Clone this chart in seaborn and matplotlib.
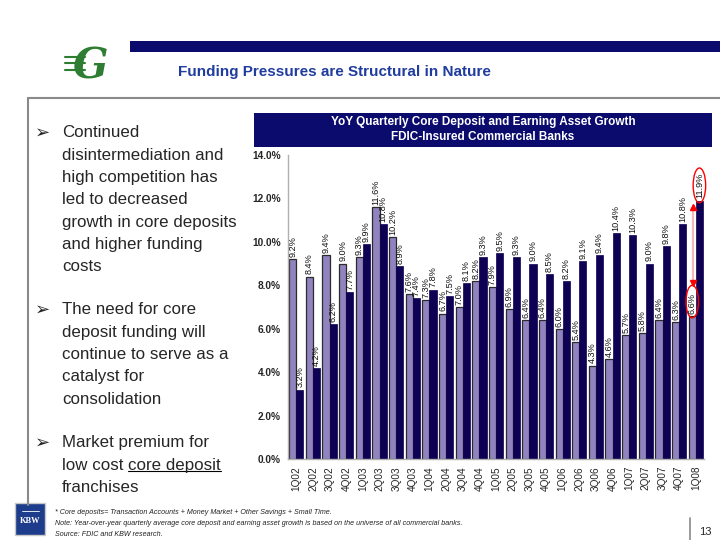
import numpy as np
import pandas as pd
import seaborn as sns
import matplotlib.pyplot as plt
from matplotlib.patches import Rectangle, Ellipse
from matplotlib.lines import Line2D

quarters = ["1Q02", "2Q02", "3Q02", "4Q02", "1Q03", "2Q03", "3Q03", "4Q03",
            "1Q04", "2Q04", "3Q04", "4Q04", "1Q05", "2Q05", "3Q05", "4Q05",
            "1Q06", "2Q06", "3Q06", "4Q06", "1Q07", "2Q07", "3Q07", "4Q07", "1Q08"]
core_deposit = [9.2, 8.4, 9.4, 9.0, 9.3, 11.6, 10.2, 7.6, 7.3, 6.7, 7.0, 8.2, 7.9,
                6.9, 6.4, 6.4, 6.0, 5.4, 4.3, 4.6, 5.7, 5.8, 6.4, 6.3, 6.6]
earning_asset = [3.2, 4.2, 6.2, 7.7, 9.9, 10.8, 8.9, 7.4, 7.8, 7.5, 8.1, 9.3, 9.5,
                 9.3, 9.0, 8.5, 8.2, 9.1, 9.4, 10.4, 10.3, 9.0, 9.8, 10.8, 11.9]
series_names = ["Core Deposit Growth", "Earning Asset Growth"]
yticks = [0, 2, 4, 6, 8, 10, 12, 14]

bullets = [
    ["Continued", "disintermediation and", "high competition has", "led to decreased",
     "growth in core deposits", "and higher funding", "costs"],
    ["The need for core", "deposit funding will", "continue to serve as a",
     "catalyst for", "consolidation"],
    ["Market premium for", "low cost core deposit", "franchises"],
]
footnotes = [
    "* Core deposits= Transaction Accounts + Money Market + Other Savings + Small Time.",
    "Note: Year-over-year quarterly average core deposit and earning asset growth is based on the universe of all commercial banks.",
    "Source: FDIC and KBW research.",
]

LIGHT = "#9183BF"
DARK = "#0E0052"
NAVY = "#0B0B6E"

df = pd.DataFrame({
    "quarter": quarters * 2,
    "growth": core_deposit + earning_asset,
    "series": [series_names[0]] * len(quarters) + [series_names[1]] * len(quarters),
})

sns.set_style("white")
plt.rcParams["font.family"] = ["Liberation Sans", "DejaVu Sans"]

fig = plt.figure(figsize=(7.2, 5.4), dpi=100)
fig.patch.set_facecolor("white")

# header band, title and logo
fig.add_artist(Rectangle((0.181, 0.904), 0.82, 0.02, transform=fig.transFigure,
                         color=NAVY, lw=0))
fig.text(0.247, 0.866, "Funding Pressures are Structural in Nature", color="#1F3C9E",
         fontsize=11, fontweight="bold", va="center", ha="left")
fig.text(0.125, 0.877, "G", color="#2E7D32", fontsize=30, fontweight="bold",
         style="italic", family="DejaVu Serif", ha="center", va="center")
for i in range(3):
    fig.add_artist(Line2D([0.09, 0.118], [0.895 - i * 0.012] * 2,
                          transform=fig.transFigure, color="#2E7D32", lw=1.5))

# frame
fig.add_artist(Line2D([0.039, 1.0], [0.8185, 0.8185], transform=fig.transFigure,
                      color="#8a8a8a", lw=1.5))
fig.add_artist(Line2D([0.039, 0.039], [0.8185, 0.065], transform=fig.transFigure,
                      color="#8a8a8a", lw=1.5))

# chart header
fig.add_artist(Rectangle((0.353, 0.728), 0.636, 0.063, transform=fig.transFigure,
                         color=NAVY, lw=0))
fig.text(0.671, 0.774, "YoY Quarterly Core Deposit and Earning Asset Growth",
         color="white", fontsize=8.5, fontweight="bold", ha="center", va="center")
fig.text(0.671, 0.746, "FDIC-Insured Commercial Banks",
         color="white", fontsize=8.5, fontweight="bold", ha="center", va="center")

# bullets
starts = [133, 310, 443]
step = 22.3
bullet_texts = []
for block, y0 in zip(bullets, starts):
    fig.text(0.049, 1 - y0 / 540, "\u27a2", fontsize=13, va="center", ha="left",
             family="DejaVu Sans")
    for j, line in enumerate(block):
        y = 1 - (y0 + j * step) / 540
        if line == "low cost core deposit":
            t1 = fig.text(0.086, y, "low cost ", fontsize=12.2, va="center", ha="left")
            bullet_texts.append((t1, y))
        else:
            fig.text(0.086, y, line, fontsize=12.2, va="center", ha="left")

# chart
ax = fig.add_axes([0.4, 0.15, 0.578, 0.563])
sns.barplot(data=df, x="quarter", y="growth", hue="series", ax=ax,
            palette=[LIGHT, DARK], width=0.86, legend=False, saturation=1)
n = len(quarters)
for k, p in enumerate(ax.patches[:2 * n]):
    if k < n:
        p.set_edgecolor("#2b2b2b")
        p.set_linewidth(0.9)
    else:
        p.set_edgecolor(DARK)
        p.set_linewidth(0.5)

for k, p in enumerate(ax.patches[:2 * n]):
    val = p.get_height()
    ax.text(p.get_x() + p.get_width() / 2, val + 0.1, f"{val:.1f}%",
            rotation=90, ha="center", va="bottom", fontsize=6.6, color="#111111")

ax.set_ylim(0, 14)
ax.set_xlim(-0.5, n - 0.5)
ax.set_yticks(yticks)
ax.set_yticklabels([f"{v:.1f}%" for v in yticks], fontsize=7.3, fontweight="bold")
ax.set_xticks(range(n))
ax.set_xticklabels(quarters, rotation=90, fontsize=7.2)
ax.set_xlabel("")
ax.set_ylabel("")
sns.despine(ax=ax)
for s in ["left", "bottom"]:
    ax.spines[s].set_color("#b0b0b0")
    ax.spines[s].set_linewidth(1)
ax.tick_params(axis="y", length=0, pad=5)
ax.tick_params(axis="x", length=3, color="#b0b0b0", pad=2)

# red annotation on last quarter
last_light = ax.patches[n - 1]
last_dark = ax.patches[2 * n - 1]
xl = last_light.get_x() + last_light.get_width() / 2
xd = last_dark.get_x() + last_dark.get_width() / 2
ax.add_patch(Ellipse((xd, earning_asset[-1] + 0.7), 0.75, 1.6, fill=False,
                     edgecolor="red", lw=1, clip_on=False))
ax.add_patch(Ellipse((xl, core_deposit[-1] + 0.65), 0.75, 1.5, fill=False,
                     edgecolor="red", lw=1, clip_on=False))
xa = (xl + xd) / 2 - 0.15
ya0 = core_deposit[-1] + 1.5
ya1 = earning_asset[-1] - 0.3
ax.plot([xa, xa], [ya0, ya1], color="#f6b8b8", lw=1.5)
ax.plot([xa], [ya1], marker="^", color="red", markersize=5)
ax.plot([xa], [ya0], marker="v", color="red", markersize=5)

# underline "core deposit"
fig.canvas.draw()
renderer = fig.canvas.get_renderer()
inv = fig.transFigure.inverted()
for t1, y in bullet_texts:
    bb = t1.get_window_extent(renderer)
    x1 = inv.transform((bb.x1, bb.y0))[0]
    t2 = fig.text(x1, y, "core deposit", fontsize=12.2, va="center", ha="left")
    fig.canvas.draw()
    bb2 = t2.get_window_extent(renderer)
    (ux0, uy0), (ux1, _) = inv.transform([(bb2.x0, bb2.y0), (bb2.x1, bb2.y0)])
    fig.add_artist(Line2D([ux0, ux1], [uy0 + 0.004, uy0 + 0.004],
                          transform=fig.transFigure, color="black", lw=0.8))

# footer
fig.add_artist(Rectangle((0.021, 0.01), 0.042, 0.058, transform=fig.transFigure,
                         facecolor="#1D3C8C", edgecolor="#c8c8c8", lw=1))
fig.text(0.042, 0.035, "KBW", color="white", fontsize=6, fontweight="bold",
         family="Liberation Serif", ha="center", va="center")
fig.add_artist(Line2D([0.03, 0.054], [0.053, 0.053], transform=fig.transFigure,
                      color="white", lw=0.6))
for i, line in enumerate(footnotes):
    fig.text(0.077, 1 - (512 + i * 11.5) / 540, line, fontsize=5.1, style="italic",
             va="center", ha="left", color="#222222")
fig.add_artist(Line2D([0.958, 0.958], [0.0, 0.04], transform=fig.transFigure,
                      color="#8a8a8a", lw=1.2))
fig.text(0.98, 0.015, "13", fontsize=8, ha="center", va="center")

fig.savefig("out.png", dpi=100)
